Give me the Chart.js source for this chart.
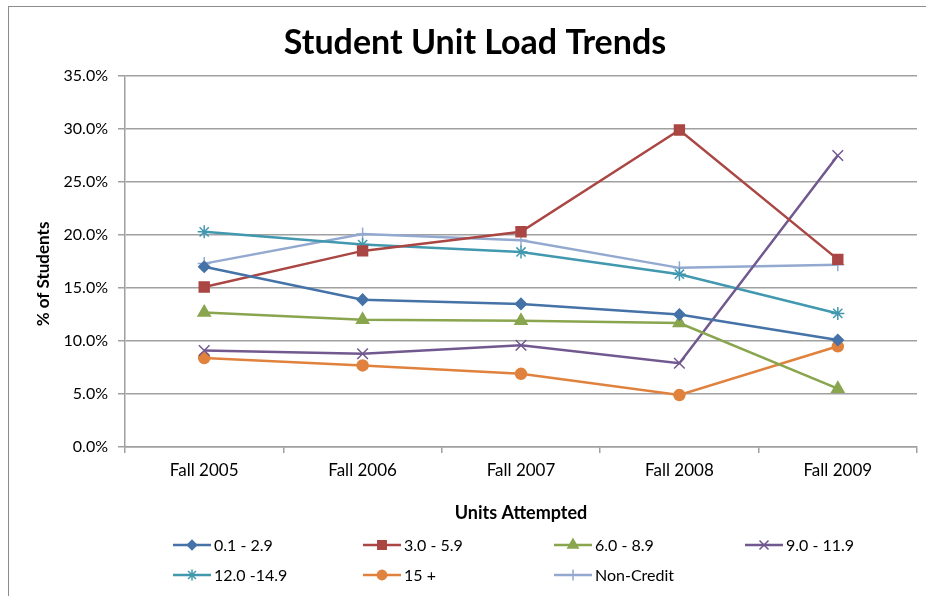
<!DOCTYPE html>
<html>
<head>
<meta charset="utf-8">
<script src="https://cdn.jsdelivr.net/npm/chart.js@4.4.0/dist/chart.umd.min.js"></script>
<style>
  html, body { margin: 0; padding: 0; background: #fff; }
  #wrap { position: relative; width: 926px; height: 596px; overflow: hidden; }
  #frame { position: absolute; left: 8px; top: 6px; width: 940px; height: 620px; border: 1px solid #8c8c8c; }
  canvas { position: absolute; left: 0; top: 0; }
</style>
</head>
<body>
<div id="wrap">
  <div id="frame"></div>
  <canvas id="myChart" width="926" height="596"></canvas>
</div>
<script>
const FONT = 'Lato, "Liberation Sans", sans-serif';

const terms = ['Fall 2005', 'Fall 2006', 'Fall 2007', 'Fall 2008', 'Fall 2009'];

// % of students per unit load band
const load01 = [17.0, 13.9, 13.5, 12.5, 10.1];
const load30 = [15.1, 18.5, 20.3, 29.9, 17.7];
const load60 = [12.7, 12.0, 11.9, 11.7, 5.5];
const load90 = [9.1, 8.8, 9.6, 7.9, 27.5];
const load120 = [20.3, 19.1, 18.4, 16.3, 12.6];
const load15 = [8.4, 7.7, 6.9, 4.9, 9.5];
const nonCredit = [17.3, 20.1, 19.5, 16.9, 17.2];

const seriesNames = ['0.1 - 2.9', '3.0 - 5.9', '6.0 - 8.9', '9.0 - 11.9', '12.0 -14.9', '15 +', 'Non-Credit'];
const yTicks = [0, 5, 10, 15, 20, 25, 30, 35];

function series(label, values, color, style, radius) {
  return {
    label: label,
    data: values,
    borderColor: color,
    backgroundColor: color,
    pointBackgroundColor: color,
    pointBorderColor: color,
    borderWidth: 2.5,
    pointStyle: style,
    pointRadius: radius,
    pointBorderWidth: 1.5,
    tension: 0
  };
}

const data = {
  labels: terms,
  datasets: [
    series(seriesNames[0], load01, '#4572A7', 'rectRot', 5.5),
    series(seriesNames[1], load30, '#AA4643', 'rect', 7),
    series(seriesNames[2], load60, '#89A54E', 'triangle', 7),
    series(seriesNames[3], load90, '#71588F', 'crossRot', 7.5),
    series(seriesNames[4], load120, '#4198AF', 'star', 6.5),
    series(seriesNames[5], load15, '#E0823D', 'circle', 5.5),
    series(seriesNames[6], nonCredit, '#93A9CF', 'cross', 6.5)
  ]
};

// title, y title and the excel style legend
const decorations = {
  id: 'decorations',
  afterDraw(chart) {
    const c = chart.ctx;
    c.save();
    c.fillStyle = '#000';
    c.textAlign = 'center';
    c.textBaseline = 'middle';
    c.font = 'bold 34px ' + FONT;
    c.fillText('Student Unit Load Trends', 475, 43);

    c.save();
    c.translate(44, 274);
    c.rotate(-Math.PI / 2);
    c.font = 'bold 17px ' + FONT;
    c.fillText('% of Students', 0, 0);
    c.restore();

    const cols = [173, 363, 554, 745];
    const rows = [545, 575];
    c.textAlign = 'left';
    c.font = '16px ' + FONT;
    chart.data.datasets.forEach((ds, i) => {
      const x = cols[i % 4];
      const y = rows[Math.floor(i / 4)];
      c.strokeStyle = ds.borderColor;
      c.lineWidth = 2.5;
      c.beginPath();
      c.moveTo(x, y);
      c.lineTo(x + 38, y);
      c.stroke();
      c.fillStyle = ds.pointBackgroundColor;
      c.strokeStyle = ds.pointBorderColor;
      c.lineWidth = 1.5;
      Chart.helpers.drawPoint(c, {
        pointStyle: ds.pointStyle,
        radius: ds.pointRadius * 0.85,
        rotation: 0,
        borderWidth: 1.5
      }, x + 19, y);
      c.fillStyle = '#000';
      c.fillText(ds.label, x + 41, y + 1);
    });
    c.restore();
  }
};

const config = {
  type: 'line',
  data: data,
  plugins: [decorations],
  options: {
    responsive: false,
    animation: false,
    layout: {
      padding: { top: 76, right: 6, bottom: 66, left: 0 }
    },
    plugins: {
      legend: { display: false },
      tooltip: { enabled: false },
      title: { display: false }
    },
    scales: {
      x: {
        offset: true,
        afterFit: (s) => { s.height = 83; },
        grid: {
          offset: true,
          drawOnChartArea: false,
          drawTicks: true,
          tickLength: 6,
          color: '#a0a0a0',
          lineWidth: 1.5
        },
        border: { color: '#a0a0a0', width: 1.5 },
        ticks: {
          color: '#000',
          padding: 7,
          font: { family: FONT, size: 17 }
        },
        title: {
          display: true,
          text: 'Units Attempted',
          color: '#000',
          padding: { top: 0, bottom: 6 },
          font: { family: FONT, size: 18, weight: 'bold' }
        }
      },
      y: {
        min: yTicks[0],
        max: yTicks[yTicks.length - 1],
        afterFit: (s) => { s.width = 125; },
        afterBuildTicks: (s) => { s.ticks = yTicks.map(v => ({ value: v })); },
        grid: {
          color: '#a0a0a0',
          lineWidth: 1.5,
          tickLength: 7
        },
        border: { color: '#a0a0a0', width: 1.5 },
        ticks: {
          color: '#000',
          padding: 10,
          font: { family: FONT, size: 16 },
          callback: function (value) {
            return value.toFixed(1) + '%';
          }
        }
      }
    }
  }
};

const myChart = new Chart(document.getElementById('myChart').getContext('2d'), config);
</script>
</body>
</html>
